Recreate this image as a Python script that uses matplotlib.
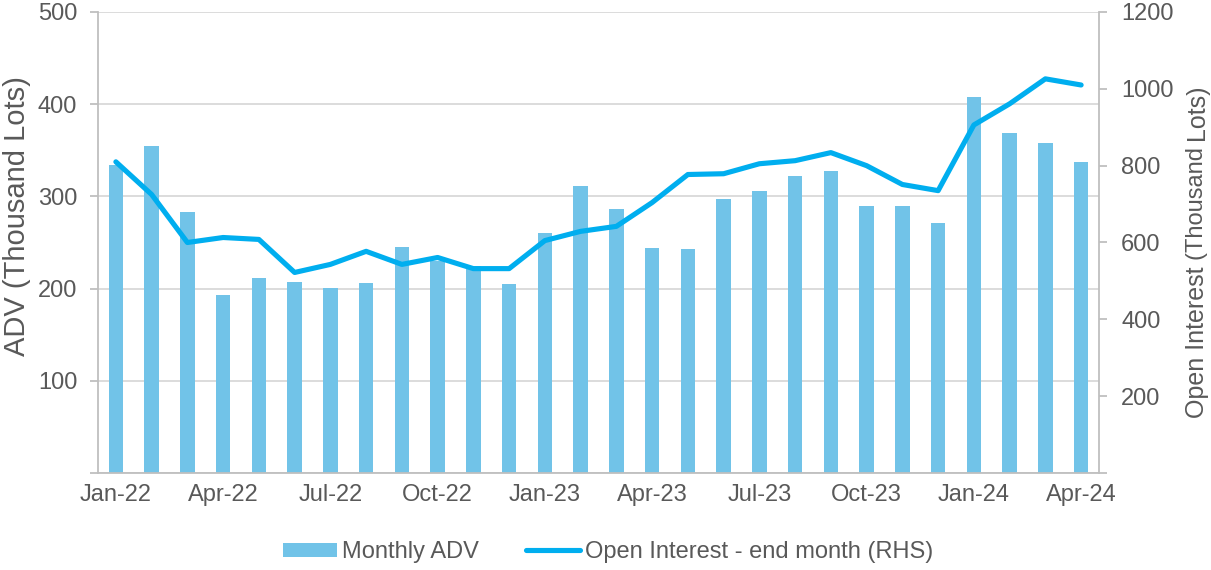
import matplotlib
matplotlib.use("Agg")
import matplotlib.pyplot as plt
import numpy as np

plt.rcParams['font.family'] = ['Liberation Sans', 'DejaVu Sans']

months = ["Jan-22","Feb-22","Mar-22","Apr-22","May-22","Jun-22","Jul-22","Aug-22","Sep-22","Oct-22",
          "Nov-22","Dec-22","Jan-23","Feb-23","Mar-23","Apr-23","May-23","Jun-23","Jul-23","Aug-23",
          "Sep-23","Oct-23","Nov-23","Dec-23","Jan-24","Feb-24","Mar-24","Apr-24"]
monthly_adv = [334, 355, 283, 193, 212, 207, 201, 206, 245, 230, 224, 205, 260, 311, 286, 244,
               243, 297, 306, 322, 328, 290, 290, 271, 408, 369, 358, 337]
open_interest = [810, 725, 600, 613, 608, 522, 543, 577, 543, 561, 532, 532, 605, 629, 642, 704,
                 777, 779, 805, 813, 834, 800, 751, 735, 906, 961, 1026, 1010]

text_c = "#595959"
grid_c = "#D9D9D9"
spine_c = "#BFBFBF"
bar_c = "#71C3E8"
line_c = "#00AEEF"

W, H = 1211, 570
fig = plt.figure(figsize=(W / 100, H / 100), dpi=100)
ax = fig.add_axes([98/W, 1-473/H, (1099-98)/W, (473-12)/H])
ax2 = ax.twinx()

x = np.arange(len(months))
bars = ax.bar(x, monthly_adv, width=0.4, color=bar_c, zorder=2, label="Monthly ADV")
ln, = ax2.plot(x, open_interest, color=line_c, lw=3.7, solid_capstyle='round', zorder=3,
               label="Open Interest - end month (RHS)")

ax.set_xlim(-0.5, len(months) - 0.5)
ax.set_ylim(0, 500)
ax2.set_ylim(0, 1200)
ax.set_yticks([0, 100, 200, 300, 400, 500])
ax.set_yticklabels(["", "100", "200", "300", "400", "500"])
ax2.set_yticks([0, 200, 400, 600, 800, 1000, 1200])
ax2.set_yticklabels(["", "200", "400", "600", "800", "1000", "1200"])
ax.set_xticks(x[::3])
ax.set_xticklabels(months[::3])

ax.yaxis.grid(True, color=grid_c, lw=1.3, zorder=0)
ax.set_axisbelow(True)

for a in (ax, ax2):
    for s in a.spines.values():
        s.set_visible(False)
for a, side in ((ax, 'left'), (ax, 'bottom'), (ax2, 'right')):
    a.spines[side].set_visible(True)
    a.spines[side].set_color(spine_c)
    a.spines[side].set_linewidth(1.3)

ax.tick_params(axis='y', colors=spine_c, labelcolor=text_c, labelsize=17, length=6, width=1.3, pad=9)
ax2.tick_params(axis='y', colors=spine_c, labelcolor=text_c, labelsize=17, length=6, width=1.3, pad=10)
ax.tick_params(axis='x', length=0, labelcolor=text_c, labelsize=17, pad=8)

ax.set_ylabel("")
ax2.set_ylabel("")
fig.text(17/W, 1-216/H, "ADV (Thousand Lots)", rotation=90, ha='center', va='center',
         color=text_c, fontsize=21)

# right axis label built from pieces, reading bottom-to-top
renderer = fig.canvas.get_renderer()
xr = 1197 / W
y0 = 418
pieces = [("Open Interest ", 18), ("(Thousand ", 17), ("Lots)", 18)]
for txt, fs in pieces:
    t = fig.text(xr, 1 - y0/H, txt, rotation=90, ha='center', va='bottom',
                 color=text_c, fontsize=fs)
    bb = t.get_window_extent(renderer=renderer)
    y0 = y0 - bb.height

fig.legend(handles=[bars, ln], labels=["Monthly ADV", "Open Interest - end month (RHS)"],
           loc='center', bbox_to_anchor=(608/W, 1-552/H), ncol=2, frameon=False,
           fontsize=17, labelcolor=text_c, handlelength=2.3, handleheight=0.55,
           handletextpad=0.2, columnspacing=2.0)

fig.savefig("out.png", dpi=100)
